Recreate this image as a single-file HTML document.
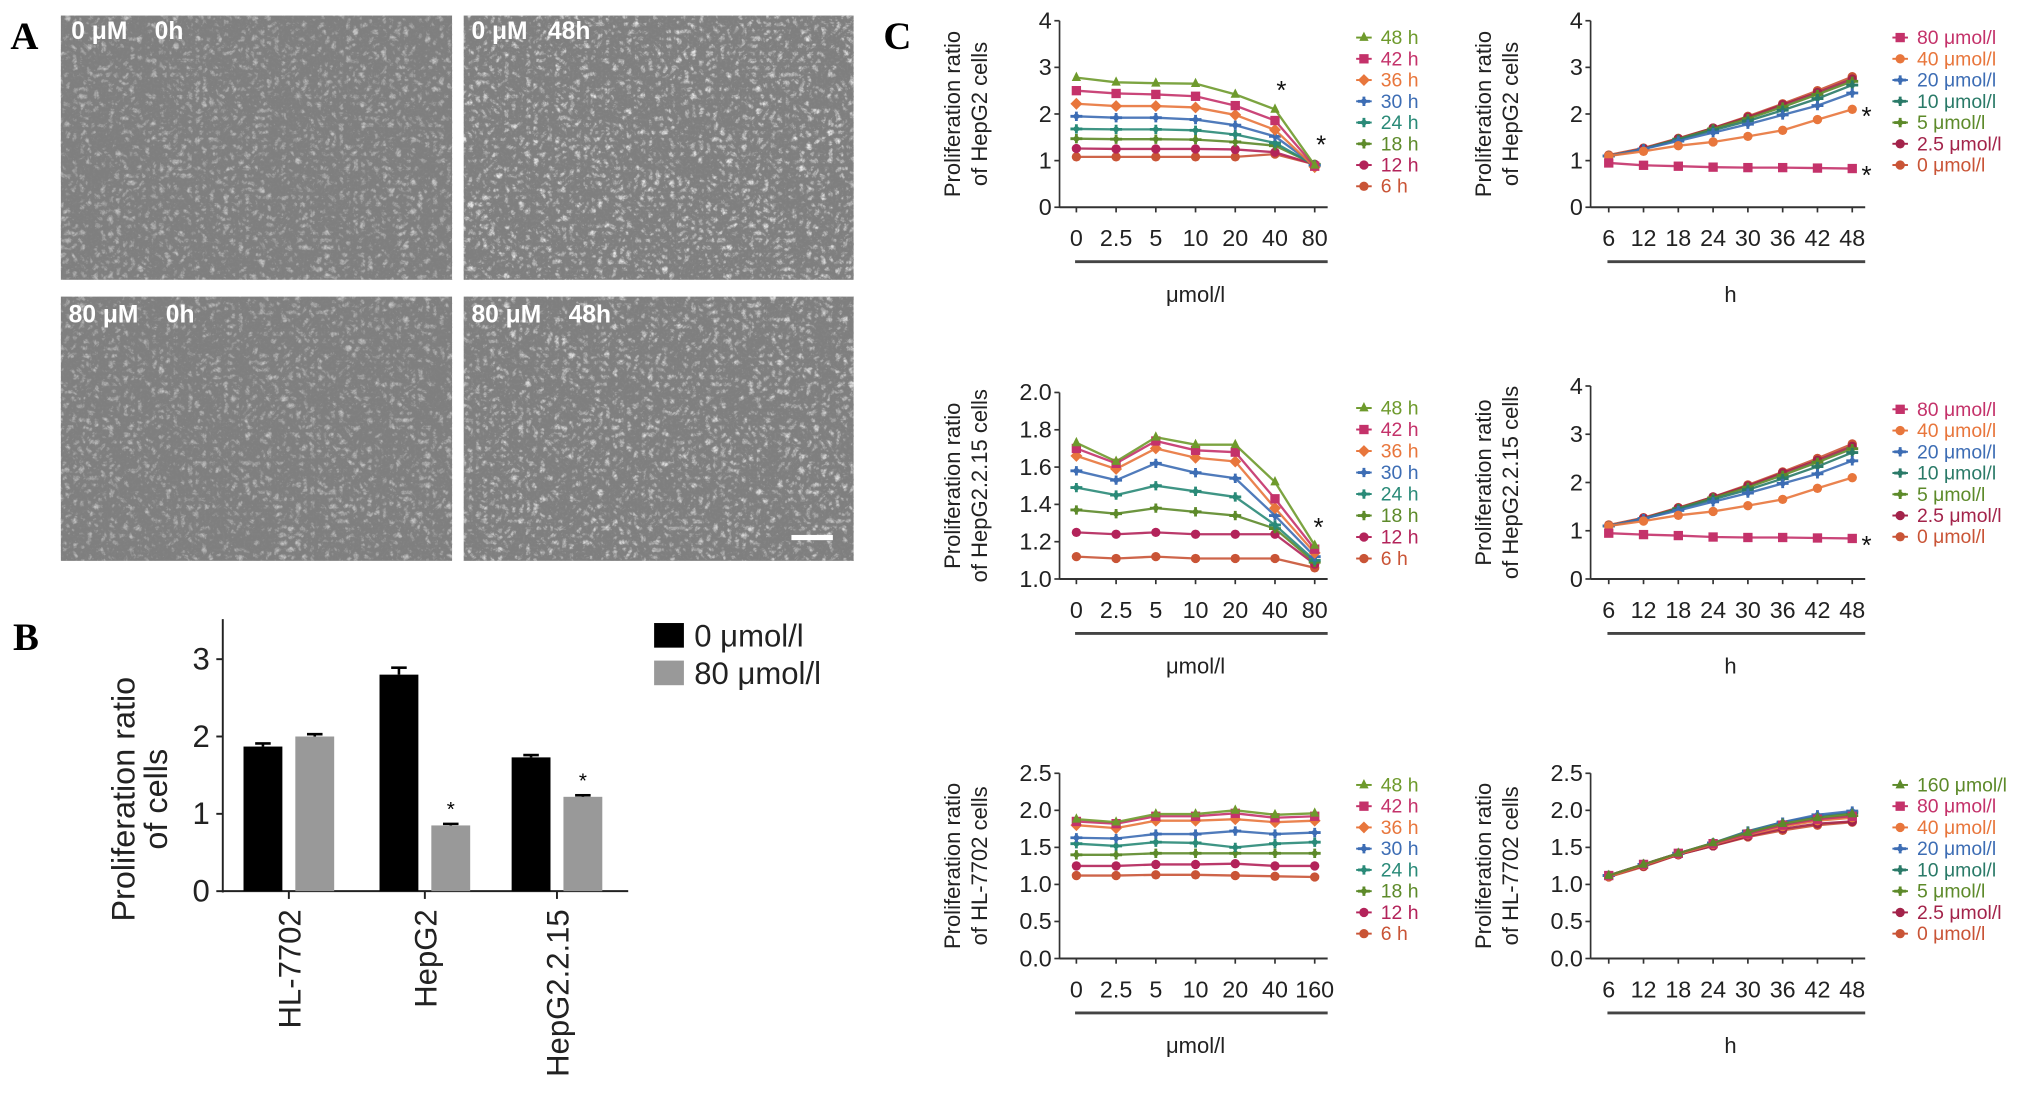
<!DOCTYPE html>
<html><head><meta charset="utf-8"><style>
html,body{margin:0;padding:0;background:#fff;}
svg{display:block;font-family:"Liberation Sans",sans-serif;}
.tick{font-family:"Liberation Sans Narrow","Liberation Sans",sans-serif;font-size:18px;fill:#222;}
.leg{font-family:"Liberation Sans Narrow","Liberation Sans",sans-serif;font-size:15px;}
.ytitle{font-size:17px;fill:#222;}
.mlab{white-space:pre;}
</style></head><body>
<svg id="fig" width="2031" height="1101" viewBox="0 0 1568 850" xmlns="http://www.w3.org/2000/svg">
<defs>
<filter id="noise2" x="0" y="0" width="100%" height="100%">
<feTurbulence type="turbulence" baseFrequency="0.18" numOctaves="3" seed="7"/>
<feColorMatrix type="matrix" values="0 0 0 0 0.9  0 0 0 0 0.9  0 0 0 0 0.9  0 0 2.2 0 -0.75"/>
</filter>
<filter id="noise3" x="0" y="0" width="100%" height="100%">
<feTurbulence type="fractalNoise" baseFrequency="0.5" numOctaves="2" seed="11"/>
<feColorMatrix type="matrix" values="0 0 0 0 0.25  0 0 0 0 0.25  0 0 0 0 0.25  2.5 0 0 0 -1.25"/>
</filter>
</defs>
<!-- Panel A -->
<text x="8" y="38" font-family="Liberation Serif" font-weight="bold" font-size="30">A</text>
<g>
<rect x="47" y="12" width="302" height="204" fill="#7f7f7f"/><rect x="47" y="12" width="302" height="204" filter="url(#noise2)" opacity="0.6"/><rect x="47" y="12" width="302" height="204" filter="url(#noise3)" opacity="0.5"/>
<text class="mlab" xml:space="preserve" x="55" y="30" fill="#fff" font-weight="bold" font-size="19">0 μM    0h</text></g>
<g>
<rect x="358" y="12" width="301" height="204" fill="#7f7f7f"/><rect x="358" y="12" width="301" height="204" filter="url(#noise2)" opacity="0.9"/><rect x="358" y="12" width="301" height="204" filter="url(#noise3)" opacity="0.8"/>
<text class="mlab" xml:space="preserve" x="364" y="30" fill="#fff" font-weight="bold" font-size="19">0 μM   48h</text></g>
<g>
<rect x="47" y="229" width="302" height="204" fill="#7f7f7f"/><rect x="47" y="229" width="302" height="204" filter="url(#noise2)" opacity="0.6"/><rect x="47" y="229" width="302" height="204" filter="url(#noise3)" opacity="0.5"/>
<text class="mlab" xml:space="preserve" x="53" y="249" fill="#fff" font-weight="bold" font-size="19">80 μM    0h</text></g>
<g>
<rect x="358" y="229" width="301" height="204" fill="#7f7f7f"/><rect x="358" y="229" width="301" height="204" filter="url(#noise2)" opacity="0.8"/><rect x="358" y="229" width="301" height="204" filter="url(#noise3)" opacity="0.7"/>
<text class="mlab" xml:space="preserve" x="364" y="249" fill="#fff" font-weight="bold" font-size="19">80 μM    48h</text>
<rect x="611" y="413" width="32" height="4" fill="#fff"/></g>

<!-- Panel B -->
<text x="10" y="502" font-family="Liberation Serif" font-weight="bold" font-size="30">B</text>
<g id="barchart"></g>

<!-- Panel C -->
<text x="682" y="38" font-family="Liberation Serif" font-weight="bold" font-size="30">C</text>
<g id="lines"></g>
</svg>
<script>
// ---------- Bar chart data ----------
const barCategories = ["HL-7702","HepG2","HepG2.2.15"];
const bar0 = [1.87, 2.80, 1.73];
const bar80 = [2.00, 0.85, 1.22];
const bar0Err = [0.04, 0.09, 0.03];
const bar80Err = [0.03, 0.02, 0.02];
const barStar = [false, true, true];
const barTicks = [0,1,2,3];

// ---------- Line chart data ----------
const doseLabels = ["0","2.5","5","10","20","40","80"];
const doseLabelsHL = ["0","2.5","5","10","20","40","160"];
const timeLabels = ["6","12","18","24","30","36","42","48"];
const hourNames = ["48 h","42 h","36 h","30 h","24 h","18 h","12 h","6 h"];
const concNames = ["80 μmol/l","40 μmol/l","20 μmol/l","10 μmol/l","5 μmol/l","2.5 μmol/l","0 μmol/l"];
const concNamesHL = ["160 μmol/l","80 μmol/l","40 μmol/l","20 μmol/l","10 μmol/l","5 μmol/l","2.5 μmol/l","0 μmol/l"];
const ticks4 = ["0","1","2","3","4"];
const ticks2 = ["1.0","1.2","1.4","1.6","1.8","2.0"];
const ticks25 = ["0.0","0.5","1.0","1.5","2.0","2.5"];

const hepg2Dose = [
 [2.78,2.68,2.66,2.65,2.42,2.10,0.90],
 [2.50,2.44,2.42,2.38,2.18,1.86,0.88],
 [2.22,2.17,2.17,2.14,1.98,1.66,0.86],
 [1.95,1.92,1.92,1.88,1.76,1.52,0.90],
 [1.68,1.67,1.67,1.65,1.56,1.38,0.90],
 [1.47,1.46,1.46,1.45,1.40,1.32,0.92],
 [1.26,1.25,1.25,1.25,1.24,1.18,0.92],
 [1.08,1.08,1.08,1.08,1.08,1.14,0.92]];
const hepg2Time = [
 [0.95,0.90,0.88,0.86,0.85,0.85,0.84,0.83],
 [1.10,1.20,1.32,1.40,1.52,1.65,1.88,2.10],
 [1.10,1.25,1.42,1.60,1.78,1.98,2.18,2.45],
 [1.10,1.25,1.45,1.65,1.85,2.08,2.33,2.62],
 [1.10,1.25,1.46,1.68,1.90,2.15,2.42,2.70],
 [1.10,1.26,1.47,1.70,1.93,2.20,2.46,2.75],
 [1.12,1.27,1.48,1.70,1.95,2.22,2.50,2.80]];
const hep215Dose = [
 [1.73,1.63,1.76,1.72,1.72,1.52,1.18],
 [1.70,1.62,1.74,1.69,1.68,1.43,1.16],
 [1.66,1.59,1.70,1.65,1.63,1.38,1.14],
 [1.58,1.53,1.62,1.57,1.54,1.34,1.12],
 [1.49,1.45,1.50,1.47,1.44,1.29,1.10],
 [1.37,1.35,1.38,1.36,1.34,1.27,1.09],
 [1.25,1.24,1.25,1.24,1.24,1.24,1.08],
 [1.12,1.11,1.12,1.11,1.11,1.11,1.06]];
const hep215Time = [
 [0.95,0.92,0.90,0.87,0.86,0.86,0.85,0.84],
 [1.10,1.20,1.32,1.40,1.52,1.65,1.88,2.10],
 [1.10,1.25,1.42,1.60,1.78,1.98,2.18,2.45],
 [1.10,1.25,1.45,1.65,1.85,2.08,2.33,2.62],
 [1.10,1.25,1.46,1.68,1.90,2.15,2.42,2.70],
 [1.10,1.26,1.47,1.70,1.93,2.20,2.46,2.75],
 [1.12,1.27,1.48,1.70,1.95,2.22,2.50,2.80]];
const hlDose = [
 [1.88,1.84,1.95,1.95,2.00,1.94,1.96],
 [1.85,1.82,1.92,1.92,1.96,1.90,1.92],
 [1.80,1.76,1.86,1.86,1.88,1.84,1.86],
 [1.63,1.62,1.68,1.68,1.72,1.68,1.70],
 [1.55,1.52,1.57,1.56,1.50,1.55,1.57],
 [1.40,1.40,1.42,1.42,1.42,1.42,1.42],
 [1.25,1.25,1.27,1.27,1.28,1.25,1.25],
 [1.12,1.12,1.13,1.13,1.12,1.11,1.10]];
const hlTime = [
 [1.12,1.27,1.42,1.56,1.70,1.82,1.90,1.95],
 [1.12,1.27,1.42,1.55,1.68,1.80,1.88,1.92],
 [1.11,1.26,1.41,1.54,1.67,1.78,1.86,1.90],
 [1.12,1.27,1.42,1.56,1.71,1.84,1.94,1.99],
 [1.12,1.27,1.42,1.56,1.72,1.84,1.92,1.97],
 [1.12,1.27,1.42,1.55,1.69,1.80,1.88,1.93],
 [1.11,1.25,1.40,1.52,1.65,1.75,1.82,1.85],
 [1.10,1.24,1.40,1.52,1.64,1.73,1.80,1.84]];

const hourColors = ["#6e9a2c","#c4326a","#e8763c","#3d6db4","#2a8a78","#5d8a2a","#b3235a","#c95436"];
const hourShapes = ["tri","sq","dia","plus","plus","plus","circ","circ"];
const concColors = ["#c4326a","#e8763c","#3d6db4","#2a7a68","#5d8a2a","#a3234a","#c95436"];
const concShapes = ["sq","circ","plus","plus","plus","circ","circ"];
const concColorsHL = ["#5d8a2a","#c4326a","#e8763c","#3d6db4","#2a7a68","#5d8a2a","#a3234a","#c95436"];
const concShapesHL = ["tri","sq","circ","plus","plus","plus","circ","circ"];

const NS = "http://www.w3.org/2000/svg";
function mk(tag, attrs, parent, txt){
  const e = document.createElementNS(NS, tag);
  for (const k in attrs) e.setAttribute(k, attrs[k]);
  if (txt !== undefined) e.textContent = txt;
  parent.appendChild(e); return e;
}

// ---------- Bar chart ----------
(function(){
  const g = document.getElementById('barchart');
  const ax = 172, y0 = 688, unit = 59.7, xEnd = 485;
  const yS = v => y0 - v*unit;
  const groupX = [223, 328, 430];
  const bw = 30;
  const yAxis = mk('line',{x1:ax,y1:478,x2:ax,y2:y0+1,stroke:'#222','stroke-width':1.5},g);
   
  const xAxis = mk('line',{x1:ax,y1:y0,x2:xEnd,y2:y0,stroke:'#222','stroke-width':1.5},g);
   
  barTicks.forEach(t=>{
    mk('line',{x1:ax-5,y1:yS(t),x2:ax,y2:yS(t),stroke:'#222','stroke-width':1.5},g);
    const tl = mk('text',{x:ax-10,y:yS(t)+8,'text-anchor':'end','font-size':24,fill:'#222'},g,String(t));
     
  });
  barCategories.forEach((c,i)=>{
    const cx = groupX[i];
    const b0 = mk('rect',{x:cx-35,y:yS(bar0[i]),width:bw,height:y0-yS(bar0[i]),fill:'#000'},g);
     
    const b1 = mk('rect',{x:cx+5,y:yS(bar80[i]),width:bw,height:y0-yS(bar80[i]),fill:'#999'},g);
     
    [[cx-20,bar0[i],bar0Err[i]],[cx+20,bar80[i],bar80Err[i]]].forEach(([x,v,e])=>{
      mk('line',{x1:x,y1:yS(v),x2:x,y2:yS(v+e),stroke:'#000','stroke-width':2},g);
      mk('line',{x1:x-6,y1:yS(v+e),x2:x+6,y2:yS(v+e),stroke:'#000','stroke-width':2},g);
    });
    if (barStar[i]) { const s = mk('text',{x:cx+20,y:yS(bar80[i]+bar80Err[i])-6,'text-anchor':'middle','font-size':16},g,'*');
        }
    mk('line',{x1:cx,y1:y0,x2:cx,y2:y0+6,stroke:'#222','stroke-width':1.5},g);
    const cl = mk('text',{x:0,y:0,'text-anchor':'end','font-size':24,fill:'#222',transform:`translate(${cx+9},${y0+14}) rotate(-90)`},g,c);
     
  });
  const t1 = mk('text',{x:0,y:0,'text-anchor':'middle','font-size':25,fill:'#222',transform:'translate(104,617) rotate(-90)'},g,'Proliferation ratio');
   
  mk('text',{x:0,y:0,'text-anchor':'middle','font-size':25,fill:'#222',transform:'translate(129,617) rotate(-90)'},g,'of cells');
  const l1 = mk('rect',{x:505,y:481,width:23,height:19,fill:'#000'},g);
   
  const lt1 = mk('text',{x:536,y:499,'font-size':24,fill:'#222'},g,'0 μmol/l');
   
  const l2 = mk('rect',{x:505,y:510,width:23,height:19,fill:'#999'},g);
   
  const lt2 = mk('text',{x:536,y:528,'font-size':24,fill:'#222'},g,'80 μmol/l');
   
})();

// ---------- Line charts ----------
function marker(g, shape, x, y, col){
  const r = 3.6;
  if (shape==='tri') return mk('polygon',{points:`${x},${y-r-1} ${x-r},${y+r-1} ${x+r},${y+r-1}`,fill:col},g);
  if (shape==='sq') return mk('rect',{x:x-r,y:y-r,width:2*r,height:2*r,fill:col},g);
  if (shape==='dia') return mk('polygon',{points:`${x},${y-r-1} ${x+r+1},${y} ${x},${y+r+1} ${x-r-1},${y}`,fill:col},g);
  if (shape==='circ') return mk('circle',{cx:x,cy:y,r:r,fill:col},g);
  const p = mk('path',{d:`M${x-r-1} ${y}H${x+r+1}M${x} ${y-r}V${y+r}`,stroke:col,'stroke-width':2.2},g);
  mk('circle',{cx:x,cy:y,r:2.2,fill:col},g); return p;
}
function lineChart(o){
  const root = document.getElementById('lines');
  const g = mk('g',{},root);
  
  
  const yS = v => o.yBot - (v - o.yMin)/(o.yMax - o.yMin)*(o.yBot - o.yTop);
  const n = o.xLabels.length;
  const step = (o.xLast - o.xFirst)/(n-1);
  const xS = i => o.xFirst + i*step;
  const xEnd = o.xLast + 10;
  const ya = mk('line',{x1:o.ax,y1:o.yTop,x2:o.ax,y2:o.yBot,stroke:'#333','stroke-width':1.3},g);
   
  const xa = mk('line',{x1:o.ax,y1:o.yBot,x2:xEnd,y2:o.yBot,stroke:'#333','stroke-width':1.6},g);
   
  o.yTicks.forEach(t=>{
    const v = parseFloat(t);
    mk('line',{x1:o.ax-4,y1:yS(v),x2:o.ax,y2:yS(v),stroke:'#333','stroke-width':1.3},g);
    const tl = mk('text',{x:o.ax-6,y:yS(v)+6,'text-anchor':'end',class:'tick'},g,t);
     
  });
  o.xLabels.forEach((l,i)=>{
    mk('line',{x1:xS(i),y1:o.yBot,x2:xS(i),y2:o.yBot+4,stroke:'#333','stroke-width':1.3},g);
    const tl = mk('text',{x:xS(i),y:o.yBot+30,'text-anchor':'middle',class:'tick'},g,l);
     
  });
  const ul = mk('line',{x1:xS(0)-1,y1:o.yBot+42,x2:o.xLast+10,y2:o.yBot+42,stroke:'#444','stroke-width':2.2},g);
   
  const xt = mk('text',{x:(xS(0)+o.xLast)/2,y:o.yBot+73,'text-anchor':'middle','font-size':17,fill:'#222'},g,o.xTitle);
   
  const cy = (o.yTop+o.yBot)/2;
  const t1 = mk('text',{x:0,y:0,'text-anchor':'middle',class:'ytitle',transform:`translate(${o.ax-77},${cy}) rotate(-90)`},g,'Proliferation ratio');
   
  mk('text',{x:0,y:0,'text-anchor':'middle',class:'ytitle',transform:`translate(${o.ax-56},${cy}) rotate(-90)`},g,o.yTitle2);
  for (let s = o.series.length-1; s>=0; s--){
    const vals = o.series[s], col = o.colors[s];
    const pts = vals.map((v,i)=>`${xS(i)},${yS(v)}`).join(' ');
    const pl = mk('polyline',{points:pts,fill:'none',stroke:col,'stroke-width':1.8,'stroke-opacity':0.9},g);
    
    
    vals.forEach((v,i)=>{
      const m = marker(g, o.shapes[s], xS(i), yS(v), col);
      
      
    });
  }
  o.names.forEach((nm,i)=>{
    const ly = o.legY + i*o.legStep;
    const m = marker(g, o.shapes[i], o.legX, ly, o.colors[i]);
    
    
    mk('line',{x1:o.legX-6,y1:ly,x2:o.legX+6,y2:ly,stroke:o.colors[i],'stroke-width':1.5},g);
    const tl = mk('text',{x:o.legX+13,y:ly+5,class:'leg',fill:o.colors[i],'font-size':o.legFont||15},g,nm);
    
    
  });
  (o.stars||[]).forEach(([i,v])=>{
    const s = mk('text',{x:xS(i)+(o.starDx||0),y:yS(v)+(o.starDy||0),'text-anchor':'middle','font-size':20,fill:'#111'},g,'*');
     
  });
}
const rowA = {ax:818,xFirst:831,xLast:1015};
const rowB = {ax:1228,xFirst:1242,xLast:1430};
lineChart(Object.assign({name:'chart-hepg2-dose',yTop:16,yBot:160,yMin:0,yMax:4,yTicks:ticks4,xLabels:doseLabels,xTitle:'μmol/l',yTitle2:'of HepG2 cells',series:hepg2Dose,colors:hourColors,shapes:hourShapes,names:hourNames,legX:1053,legY:29,legStep:16.4,stars:[[5,2.32],[6,1.15]],starDx:5},rowA));
lineChart(Object.assign({name:'chart-hepg2-time',yTop:16,yBot:160,yMin:0,yMax:4,yTicks:ticks4,xLabels:timeLabels,xTitle:'h',yTitle2:'of HepG2 cells',series:hepg2Time,colors:concColors,shapes:concShapes,names:concNames,legX:1467,legY:29,legStep:16.4,stars:[[7,2.1],[7,0.83]],starDx:11,starDy:12},rowB));
lineChart(Object.assign({name:'chart-hepg215-dose',yTop:303,yBot:447,yMin:1,yMax:2,yTicks:ticks2,xLabels:doseLabels,xTitle:'μmol/l',yTitle2:'of HepG2.2.15 cells',series:hep215Dose,colors:hourColors,shapes:hourShapes,names:hourNames,legX:1053,legY:315,legStep:16.6,legFont:17,stars:[[6,1.23]],starDx:3},rowA));
lineChart(Object.assign({name:'chart-hepg215-time',yTop:298,yBot:447,yMin:0,yMax:4,yTicks:ticks4,xLabels:timeLabels,xTitle:'h',yTitle2:'of HepG2.2.15 cells',series:hep215Time,colors:concColors,shapes:concShapes,names:concNames,legX:1467,legY:316,legStep:16.4,stars:[[7,0.84]],starDx:11,starDy:12},rowB));
lineChart(Object.assign({name:'chart-hl7702-dose',yTop:597,yBot:740,yMin:0,yMax:2.5,yTicks:ticks25,xLabels:doseLabelsHL,xTitle:'μmol/l',yTitle2:'of HL-7702 cells',series:hlDose,colors:hourColors,shapes:hourShapes,names:hourNames,legX:1053,legY:606,legStep:16.4},rowA));
lineChart(Object.assign({name:'chart-hl7702-time',yTop:597,yBot:740,yMin:0,yMax:2.5,yTicks:ticks25,xLabels:timeLabels,xTitle:'h',yTitle2:'of HL-7702 cells',series:hlTime,colors:concColorsHL,shapes:concShapesHL,names:concNamesHL,legX:1467,legY:606,legStep:16.4},rowB));
</script>
</body></html>
